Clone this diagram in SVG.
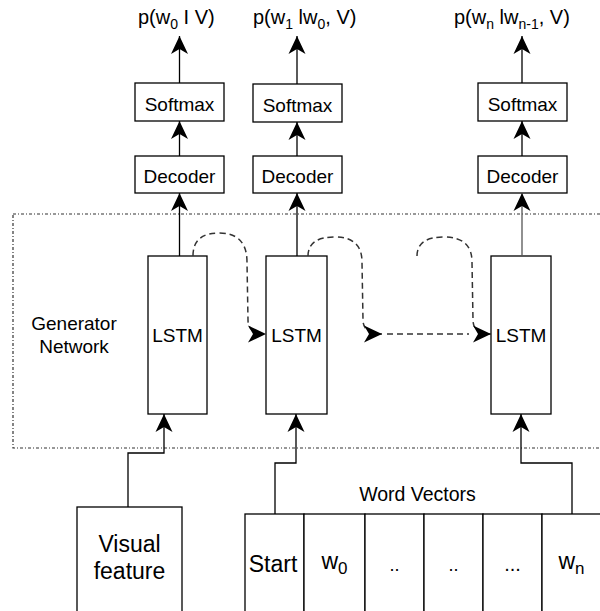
<svg xmlns="http://www.w3.org/2000/svg" width="600" height="611" viewBox="0 0 600 611">
  <style>
    text { font-family: "Liberation Sans", Arial, sans-serif; fill: #000; }
    .lbl { font-size: 19px; text-anchor: middle; }
    .big { font-size: 23px; text-anchor: middle; }
    .prob { font-size: 20px; }
    .sub { font-size: 14px; }
    .box { fill: #fff; stroke: #000; stroke-width: 1.3; }
    .edge { fill: none; stroke: #000; stroke-width: 1.3; }
    .rec { fill: none; stroke: #333; stroke-width: 1.5; stroke-dasharray: 6 4; }
    .frame { fill: none; stroke: #333; stroke-width: 1.2; stroke-dasharray: 3 2 1 2; }
  </style>
  <defs>
    <marker id="arrow" viewBox="-19 -10 20 20" refX="0" refY="0" markerWidth="20" markerHeight="20" markerUnits="userSpaceOnUse" orient="auto">
      <path d="M0,0 L-18,-8.5 L-13,0 L-18,8.5 Z" fill="#000" stroke="none"/>
    </marker>
  </defs>

  <rect width="600" height="611" fill="#fff"/>

  <!-- generator network frame -->
  <g id="generator-network">
    <rect class="frame" x="13" y="214" width="600" height="234"/>
    <text class="lbl" x="74" y="330">Generator</text>
    <text class="lbl" x="74" y="353">Network</text>
  </g>

  <!-- output probabilities -->
  <g id="out-0">
    <text class="prob" x="138" y="24">p(w<tspan class="sub" dy="5">0</tspan><tspan dy="-5"> I V)</tspan></text>
  </g>
  <g id="out-1">
    <text class="prob" x="253" y="24">p(w<tspan class="sub" dy="5">1</tspan><tspan dy="-5"> lw</tspan><tspan class="sub" dy="5">0</tspan><tspan dy="-5">, V)</tspan></text>
  </g>
  <g id="out-n">
    <text class="prob" x="454" y="24">p(w<tspan class="sub" dy="5">n</tspan><tspan dy="-5"> lw</tspan><tspan class="sub" dy="5">n-1</tspan><tspan dy="-5">, V)</tspan></text>
  </g>

  <!-- softmax layers -->
  <g id="softmax-0"><rect class="box" x="135" y="83" width="89" height="38"/><text class="lbl" x="179.5" y="111">Softmax</text></g>
  <g id="softmax-1"><rect class="box" x="253" y="84" width="89" height="38"/><text class="lbl" x="297.5" y="112">Softmax</text></g>
  <g id="softmax-n"><rect class="box" x="478" y="83" width="89" height="38"/><text class="lbl" x="522.5" y="111">Softmax</text></g>

  <!-- decoders -->
  <g id="decoder-0"><rect class="box" x="135" y="156" width="89" height="37"/><text class="lbl" x="179.5" y="183">Decoder</text></g>
  <g id="decoder-1"><rect class="box" x="253" y="156" width="89" height="37"/><text class="lbl" x="297.5" y="183">Decoder</text></g>
  <g id="decoder-n"><rect class="box" x="478" y="156" width="89" height="37"/><text class="lbl" x="522.5" y="183">Decoder</text></g>

  <!-- LSTM cells -->
  <g id="lstm-0"><rect class="box" x="148" y="256" width="59" height="158"/><text class="lbl" x="177.5" y="342">LSTM</text></g>
  <g id="lstm-1"><rect class="box" x="266" y="256" width="61" height="158"/><text class="lbl" x="296.5" y="342">LSTM</text></g>
  <g id="lstm-n"><rect class="box" x="491" y="256" width="60" height="158"/><text class="lbl" x="521" y="342">LSTM</text></g>

  <!-- inputs -->
  <g id="visual-feature">
    <rect class="box" x="77" y="507" width="105" height="120"/>
    <text class="big" x="129.5" y="552">Visual</text>
    <text class="big" x="129.5" y="579">feature</text>
  </g>
  <g id="word-vectors">
    <text class="lbl" x="417.5" y="501" style="font-size:19.5px">Word Vectors</text>
    <rect class="box" x="245" y="514" width="59" height="110"/>
    <rect class="box" x="304" y="514" width="61" height="110"/>
    <rect class="box" x="365" y="514" width="59" height="110"/>
    <rect class="box" x="424" y="514" width="59" height="110"/>
    <rect class="box" x="483" y="514" width="59" height="110"/>
    <rect class="box" x="542" y="514" width="62" height="110"/>
    <text class="big" x="273" y="572">Start</text>
    <text class="big" x="334.5" y="569">w<tspan style="font-size:17px" dy="5">0</tspan></text>
    <text class="lbl" x="394.5" y="571" style="font-size:18px">..</text>
    <text class="lbl" x="453.5" y="571" style="font-size:18px">..</text>
    <text class="lbl" x="512.5" y="571" style="font-size:20px">...</text>
    <text class="big" x="571.5" y="569">w<tspan style="font-size:17px" dy="5">n</tspan></text>
  </g>

  <!-- connectors -->
  <g id="connectors">
    <path class="edge" d="M179.5,83 V36" marker-end="url(#arrow)"/>
    <path class="edge" d="M179.5,156 V121" marker-end="url(#arrow)"/>
    <path class="edge" d="M179.5,256 V193" marker-end="url(#arrow)"/>

    <path class="edge" d="M297,84 V36" marker-end="url(#arrow)"/>
    <path class="edge" d="M297,156 V122" marker-end="url(#arrow)"/>
    <path class="edge" d="M297,256 V193" marker-end="url(#arrow)"/>

    <path class="edge" d="M522,83 V36" marker-end="url(#arrow)"/>
    <path class="edge" d="M522,156 V121" marker-end="url(#arrow)"/>
    <path class="edge" d="M522,256 V193" style="stroke:#555" marker-end="url(#arrow)"/>

    <path class="edge" d="M128,507 V453 H164 V414" marker-end="url(#arrow)"/>
    <path class="edge" d="M275,514 V463 H296 V414" marker-end="url(#arrow)"/>
    <path class="edge" d="M572,514 V463 H521 V414" marker-end="url(#arrow)"/>

    <!-- recurrent state passing -->
    <path class="rec" d="M193,256 Q193,233 219,233 Q247,233 247,262 L248,320 Q248,334 266,334" marker-end="url(#arrow)"/>
    <path class="rec" d="M308,256 Q308,237 335,237 Q362,237 362,262 L363,320 Q363,334 382,334" marker-end="url(#arrow)"/>
    <path class="rec" d="M387,334 H469"/>
    <path class="rec" d="M417,256 Q417,237 444,237 Q472,237 472,262 L473,320 Q473,334 491,334" marker-end="url(#arrow)"/>
  </g>
</svg>
